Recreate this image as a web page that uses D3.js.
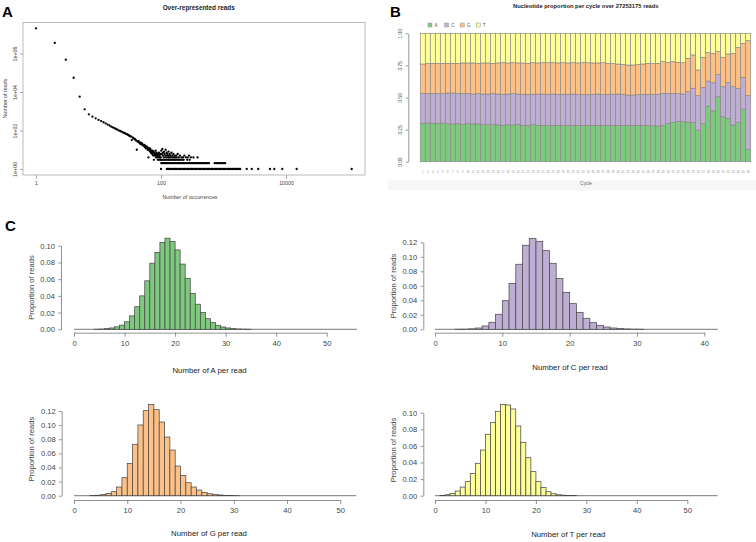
<!DOCTYPE html>
<html><head><meta charset="utf-8">
<script src="https://cdn.jsdelivr.net/npm/d3@7"></script>
<style>body{margin:0;background:#fff}svg{display:block}</style>
</head><body>
<script>
// ---------- Panel A data ----------
const trendOcc = [1,2,3,4,5,6,7,8,9,10,11,12,13,14,15,16,17,18,19,20,21,22,23,24,25,26,27,28,29,30,31,32,33,34,35,36,37,38,39,40,41,42,43,44,45,46,47,48,49,50,51,52,53,54,55,56,57,58,59,60,61,62,63,64,65,66,67,68,69,70,71,72,73,74,75,76,77,78,79,80,81,82,83,84,85,86,87,88,89,90,91,92,93,94,95,96,97,98,99];
const trendReads = [20400000,3550000,480000,55000,5750,1260,690,525,430,355,309,269,234,204,182,158,145,132,120,112,102,95,89,83,78,74,69,65,62,59,54,50,49,32,44,40,38,36,33,30,10,27,28,24,26,22,20,23,19,21,17,18,16,18,14,16,12,15,13,14,10,12,4,11,9,12,8,10,7,9,8,6,9,7,5,8,3,6,7,5,6,9,4,5,7,6,4,5,3,6,5,4,7,3,5,4,6,3,4];
const cloudOcc = [101,103,105,107,108,111,112,114,117,119,121,123,125,127,130,132,134,136,138,141,144,147,151,154,158,161,165,170,175,179,185,193,201,212,225,236,250,268,281,300,330,385];
const cloudReads = [9,6,11,5,7,4,8,6,5,10,4,7,5,6,4,8,5,4,6,5,4,7,5,4,6,4,5,4,5,4,6,4,5,4,4,5,4,4,5,4,4,4];
const occWith3Reads = [102,106,110,115,120,125,131,137,143,150,157,164,172,180,189,197,208,219,231,262,287];
const occWith2Reads = [101,104,109,113,118,122,127,133,139,145,152,159,166,174,182,190,199,208,217,228,238,249,261,272,284,298,312,326,340,357,373,390,408,426,447,466,489,510,535,560,586,720,760,800,845,885,930,975,1020,1065];
const occWith1Read = [100,124,129,134,141,148,156,163,171,179,188,198,207,217,229,240,253,265,279,291,307,321,339,354,372,393,410,433,452,477,499,526,550,579,606,639,669,704,737,776,813,856,896,943,989,1040,1090,1147,1202,1264,1325,1393,1461,1536,1611,1694,1778,1850,2350,2830,3600,5540,6500,8720,14800,112500];
const aTickX = [1,100,10000];
const aTickXLabels = ["1","100","10000"];
const aTickY = [1,100,10000,1000000];
const aTickYLabels = ["1e+00","1e+02","1e+04","1e+06"];

// ---------- Panel B data ----------
const cycles = [1,2,3,4,5,6,7,8,9,10,11,12,13,14,15,16,17,18,19,20,21,22,23,24,25,26,27,28,29,30,31,32,33,34,35,36,37,38,39,40,41,42,43,44,45,46,47,48,49,50,51,52,53,54,55,56,57,58,59,60,61,62,63,64,65,66];
const propA = [.299,.301,.301,.299,.301,.296,.294,.296,.291,.296,.294,.294,.288,.291,.288,.286,.283,.288,.286,.291,.283,.281,.288,.283,.283,.281,.283,.283,.281,.283,.283,.281,.283,.283,.281,.283,.283,.282,.283,.281,.283,.283,.283,.283,.283,.281,.280,.278,.281,.299,.306,.312,.312,.309,.304,.245,.297,.433,.395,.506,.350,.338,.286,.307,.410,.097];
const propC = [.231,.231,.231,.233,.229,.239,.241,.236,.241,.234,.233,.236,.239,.236,.242,.241,.242,.239,.244,.236,.242,.241,.237,.244,.244,.244,.244,.242,.244,.242,.244,.244,.239,.239,.244,.244,.239,.243,.242,.246,.242,.236,.236,.239,.242,.241,.245,.247,.251,.233,.226,.218,.215,.236,.268,.269,.282,.195,.220,.172,.234,.280,.298,.265,.247,.417];
const propG = [.231,.232,.234,.234,.236,.231,.231,.234,.237,.239,.242,.236,.242,.242,.236,.242,.246,.242,.241,.242,.244,.244,.246,.242,.244,.246,.244,.244,.246,.244,.244,.244,.249,.249,.244,.242,.249,.241,.239,.234,.233,.234,.234,.234,.236,.244,.239,.241,.247,.239,.247,.244,.244,.260,.259,.200,.234,.221,.229,.179,.229,.221,.260,.319,.265,.428];
const propT = [.239,.236,.234,.234,.234,.234,.234,.234,.231,.231,.231,.234,.231,.231,.234,.231,.229,.231,.229,.231,.231,.234,.229,.231,.229,.229,.229,.231,.229,.231,.229,.231,.229,.229,.231,.231,.229,.234,.236,.239,.242,.247,.247,.244,.239,.234,.236,.234,.221,.229,.221,.226,.229,.195,.169,.286,.187,.151,.156,.143,.187,.161,.156,.109,.078,.058];
const bases = ["A","C","G","T"];
const bTicksY = [0,0.25,0.5,0.75,1];
const bTitle = "Nucleotide proportion per cycle over 27253175 reads";

// ---------- Panel C data (proportion of reads per count bin) ----------
const histA = [0,0,0,0,0.0001,0.0003,0.0008,0.0016,0.003,0.005,0.009,0.016,0.027,0.040,0.058,0.079,0.092,0.104,0.109,0.105,0.095,0.078,0.061,0.043,0.030,0.020,0.0127,0.008,0.0048,0.0028,0.0016,0.0008,0.0004,0.0002,0.0001,0,0,0,0,0,0,0,0,0,0,0,0,0,0,0,0,0,0,0,0,0];
const histC = [0,0,0,0.0001,0.0002,0.0006,0.0018,0.0046,0.0097,0.0207,0.0395,0.0634,0.0897,0.1159,0.1251,0.1214,0.1085,0.0910,0.0699,0.0510,0.0354,0.0234,0.0152,0.0092,0.0055,0.0032,0.0018,0.0009,0.0005,0.0002,0.0001,0,0,0,0,0,0,0,0,0,0,0];
const histG = [0,0,0,0.0002,0.0006,0.0015,0.0033,0.0057,0.0123,0.0255,0.0458,0.0728,0.1002,0.1205,0.1294,0.1219,0.1044,0.0831,0.0647,0.0420,0.0288,0.0184,0.0123,0.0080,0.0047,0.0028,0.0019,0.0010,0.0005,0.0002,0.0001,0,0,0,0,0,0,0,0,0,0,0,0,0,0,0,0,0,0,0,0,0,0];
const histT = [0,0.0004,0.0012,0.0028,0.0056,0.0104,0.0169,0.0269,0.039,0.055,0.074,0.088,0.1017,0.110,0.1093,0.1045,0.084,0.0643,0.0458,0.029,0.0169,0.010,0.0048,0.0024,0.0012,0.0006,0.0003,0.0001,0,0,0,0,0,0,0,0,0,0,0,0,0,0,0,0,0,0,0,0,0,0,0,0,0,0,0,0];
const histTicksX50 = [0,10,20,30,40,50];
const histTicksX40 = [0,10,20,30,40];
const histTicksY10 = [0,0.02,0.04,0.06,0.08,0.10];
const histTicksY12 = [0,0.02,0.04,0.06,0.08,0.10,0.12];

const colours = {A:"#7FC97F", C:"#BEAED4", G:"#FDC086", T:"#FFFF99"};
const FONT = '"Liberation Sans", Arial, Helvetica, sans-serif';

// ---------- drawing ----------
const svg = d3.select("body").append("svg").attr("width",756).attr("height",542).style("font-family",FONT);
svg.append("rect").attr("width",756).attr("height",542).attr("fill","#fff");

function label(g, x, y, s, o) {
  o = o || {};
  const t = g.append("text").attr("x",x).attr("y",y).text(s)
    .attr("font-size",o.size||8).attr("fill",o.fill||"#222")
    .attr("text-anchor",o.anchor||"middle");
  if (o.weight) t.attr("font-weight",o.weight);
  if (o.rotate) t.attr("transform",`rotate(${o.rotate},${x},${y})`);
  if (o.baseline) t.attr("dominant-baseline",o.baseline);
  return t;
}

// Panel letters
label(svg, 2, 17, "A", {size:15, weight:"bold", anchor:"start", fill:"#000"});
label(svg, 390, 17, "B", {size:15, weight:"bold", anchor:"start", fill:"#000"});
label(svg, 5, 231, "C", {size:15, weight:"bold", anchor:"start", fill:"#000"});

// ===== Panel A =====
const gA = svg.append("g");
const ax = d3.scaleLog().domain([1,10000]).range([36,286]);
const ay = d3.scaleLog().domain([1,1e6]).range([169,53.5]);
gA.append("rect").attr("x",23).attr("y",22.5).attr("width",342).attr("height",152.5)
  .attr("fill","none").attr("stroke","#aaa").attr("stroke-width",0.8);
const ptsA = [];
trendOcc.forEach((o,i)=>ptsA.push([o,trendReads[i]]));
cloudOcc.forEach((o,i)=>ptsA.push([o,cloudReads[i]]));
occWith3Reads.forEach(o=>ptsA.push([o,3]));
occWith2Reads.forEach(o=>ptsA.push([o,2]));
occWith1Read.forEach(o=>ptsA.push([o,1]));
gA.selectAll("circle").data(ptsA).join("circle")
  .attr("cx",d=>ax(d[0])).attr("cy",d=>ay(d[1])).attr("r",1.15).attr("fill","#000");
const axA = gA.append("g").attr("transform","translate(0,175)")
  .call(d3.axisBottom(ax).tickValues(aTickX).tickFormat((d,i)=>aTickXLabels[i]).tickSize(4).tickPadding(2));
axA.select(".domain").remove();
axA.selectAll("line").attr("stroke","#aaa");
axA.selectAll("text").attr("font-size",5.3).attr("fill","#444").attr("font-family",FONT);
const ayA = gA.append("g").attr("transform","translate(23,0)")
  .call(d3.axisLeft(ay).tickValues(aTickY).tickFormat((d,i)=>aTickYLabels[i]).tickSize(3).tickPadding(2));
ayA.select(".domain").remove();
ayA.selectAll("line").attr("stroke","#aaa");
ayA.selectAll("text").attr("font-size",5.3).attr("fill","#444").attr("font-family",FONT)
  .attr("text-anchor","middle").attr("transform",d=>`translate(-8,0) rotate(-90)`).attr("x",0).attr("dy","0.32em");
label(gA, 198.7, 10, "Over-represented reads", {size:6.4, weight:"bold"});
label(gA, 190, 198.5, "Number of occurrences", {size:5.3, fill:"#444"});
label(gA, 7, 98.5, "Number of reads", {size:5.3, fill:"#444", rotate:-90});

// ===== Panel B =====
const gB = svg.append("g");
gB.append("rect").attr("x",388).attr("y",180.5).attr("width",368).attr("height",10).attr("fill","#f6f6f6");
const rowsB = cycles.map((c,i)=>({cycle:c, A:propA[i], C:propC[i], G:propG[i], T:propT[i]}));
const stackB = d3.stack().keys(bases)(rowsB);
const bx = d3.scaleBand().domain(cycles).range([420.3,750.7]).padding(0);
const by = d3.scaleLinear().domain([0,1]).range([161.7,33.3]);
gB.selectAll("g.layer").data(stackB).join("g").attr("class","layer")
  .attr("fill",d=>colours[d.key])
  .selectAll("rect").data(d=>d).join("rect")
  .attr("x",d=>bx(d.data.cycle)).attr("width",bx.bandwidth())
  .attr("y",d=>by(Math.min(1,d[1]))).attr("height",d=>by(d[0])-by(Math.min(1,d[1])))
  .attr("stroke","#8a8a8a").attr("stroke-width",0.7);
const ayB = gB.append("g").attr("transform","translate(408.3,0)")
  .call(d3.axisLeft(by).tickValues(bTicksY).tickFormat(d3.format(".2f")).tickSize(2.7).tickSizeOuter(0).tickPadding(2));
ayB.select(".domain").attr("stroke","#999");
ayB.selectAll("line").attr("stroke","#999");
ayB.selectAll("text").attr("font-size",4.8).attr("fill","#555").attr("font-family",FONT)
  .attr("text-anchor","middle").attr("transform","translate(-7.5,0) rotate(-90)").attr("x",0).attr("dy","0.32em");
gB.selectAll("text.cyc").data(cycles).join("text").attr("class","cyc")
  .attr("x",d=>bx(d)+bx.bandwidth()/2).attr("y",172.5).attr("text-anchor","middle")
  .attr("font-size",2.6).attr("fill","#888").text(d=>d);
label(gB, 586, 184.5, "Cycle", {size:4.8, fill:"#666"});
label(gB, 585.8, 7.5, bTitle, {size:5.8, weight:"bold"});
const legX = [430,446.7,462.3,478.3];
bases.forEach((b,i)=>{
  gB.append("rect").attr("x",legX[i]-2).attr("y",23).attr("width",4).attr("height",4)
    .attr("fill",colours[b]).attr("stroke","#999").attr("stroke-width",0.5);
  label(gB, legX[i]+4.5, 26.8, b, {size:4.6, fill:"#555", anchor:"start"});
});

// ===== Panel C =====
function hist(cfg) {
  const g = svg.append("g");
  const xs = d3.scaleLinear().domain([0,cfg.xmax]).range(cfg.xr);
  const ys = d3.scaleLinear().domain([0,cfg.ymax]).range(cfg.yr);
  g.append("line").attr("x1",xs(0)).attr("x2",xs(cfg.vals.length)).attr("y1",ys(0)).attr("y2",ys(0))
    .attr("stroke","#555").attr("stroke-width",0.8);
  g.selectAll("rect").data(cfg.vals.map((v,i)=>({i,v})).filter(d=>d.v>0)).join("rect")
    .attr("x",d=>xs(d.i)).attr("width",d=>xs(d.i+1)-xs(d.i))
    .attr("y",d=>ys(d.v)).attr("height",d=>ys(0)-ys(d.v))
    .attr("fill",cfg.colour).attr("stroke","#4a4a4a").attr("stroke-width",0.75);
  const gx = g.append("g").attr("transform",`translate(0,${cfg.xAxisY})`)
    .call(d3.axisBottom(xs).tickValues(cfg.xticks).tickSize(4).tickSizeOuter(0).tickPadding(3.5));
  const gy = g.append("g").attr("transform",`translate(${cfg.yAxisX},0)`)
    .call(d3.axisLeft(ys).tickValues(cfg.yticks).tickFormat(d3.format(".2f")).tickSize(2.7).tickSizeOuter(0).tickPadding(3.3));
  [gx,gy].forEach(a=>{
    a.select(".domain").attr("stroke","#777").attr("stroke-width",0.8);
    a.selectAll("line").attr("stroke","#777").attr("stroke-width",0.8);
    a.selectAll("text").attr("font-size",7.6).attr("fill","#444").attr("font-family",FONT);
  });
  label(g, cfg.titleX, cfg.titleY, cfg.title, {size:7.8, fill:"#222"});
  label(g, cfg.ylabX, cfg.ylabY, "Proportion of reads", {size:7.6, fill:"#444", rotate:-90, baseline:"central"});
}
hist({vals:histA, colour:colours.A, xmax:50, xr:[74,326.7], ymax:0.10, yr:[329.3,245.7],
  xticks:histTicksX50, yticks:histTicksY10, xAxisY:332.7, yAxisX:61,
  title:"Number of A per read", titleX:209.5, titleY:372.5, ylabX:31.7, ylabY:287.5});
hist({vals:histC, colour:colours.C, xmax:40, xr:[435,704.3], ymax:0.12, yr:[329.3,242.3],
  xticks:histTicksX40, yticks:histTicksY12, xAxisY:332.7, yAxisX:423.3,
  title:"Number of C per read", titleX:570, titleY:369.5, ylabX:393.3, ylabY:286});
hist({vals:histG, colour:colours.G, xmax:50, xr:[74,340.3], ymax:0.12, yr:[495.7,411],
  xticks:histTicksX50, yticks:histTicksY12, xAxisY:500, yAxisX:61.7,
  title:"Number of G per read", titleX:209, titleY:535.8, ylabX:31.7, ylabY:449});
hist({vals:histT, colour:colours.T, xmax:50, xr:[435,687.3], ymax:0.10, yr:[495.7,412.7],
  xticks:histTicksX50, yticks:histTicksY10, xAxisY:500, yAxisX:423.3,
  title:"Number of T per read", titleX:568.3, titleY:537, ylabX:393.3, ylabY:450});
</script>
</body></html>
